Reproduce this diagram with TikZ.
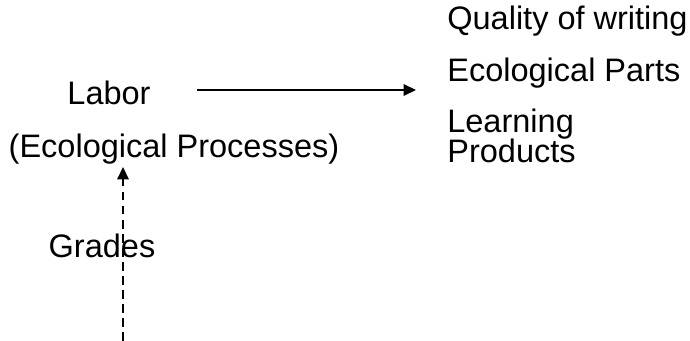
\documentclass[tikz,border=0pt]{standalone}
\usepackage{fontspec}
\setmainfont{Liberation Sans}
\usetikzlibrary{arrows.meta}
\tikzset{
  lbl/.style={font=\fontsize{18.5}{17.5}\selectfont, inner sep=0pt},
  link/.style={line width=0.85pt, -{Triangle[length=7pt,width=6.5pt]}}
}
\begin{document}
\begin{tikzpicture}[x=0.02cm,y=-0.02cm]
   \useasboundingbox (0,0) rectangle (690,341);
   \node[lbl,anchor=base] (labor) at (109,105) {Labor};
   \node[lbl,anchor=base] (proc) at (174,157) {(Ecological Processes)};
   \node[lbl,anchor=base] (grades) at (102,257) {Grades};
   \node[lbl,anchor=base west] (quality) at (447,30) {Quality of writing};
   \node[lbl,anchor=base west] (parts) at (447,82) {Ecological Parts};
   \node[lbl,anchor=base west,align=left] (products) at (447,163) {Learning\\Products};
   \coordinate (from) at (197,90);
   \coordinate (to) at (416,90);
   \coordinate (foot) at (123,341);
   \coordinate (tip) at (123,167);
   \draw[link] (from) -- (to);
   \draw[link,dashed,dash pattern=on 5pt off 3pt] (foot) -- (tip);
\end{tikzpicture}
\end{document}
